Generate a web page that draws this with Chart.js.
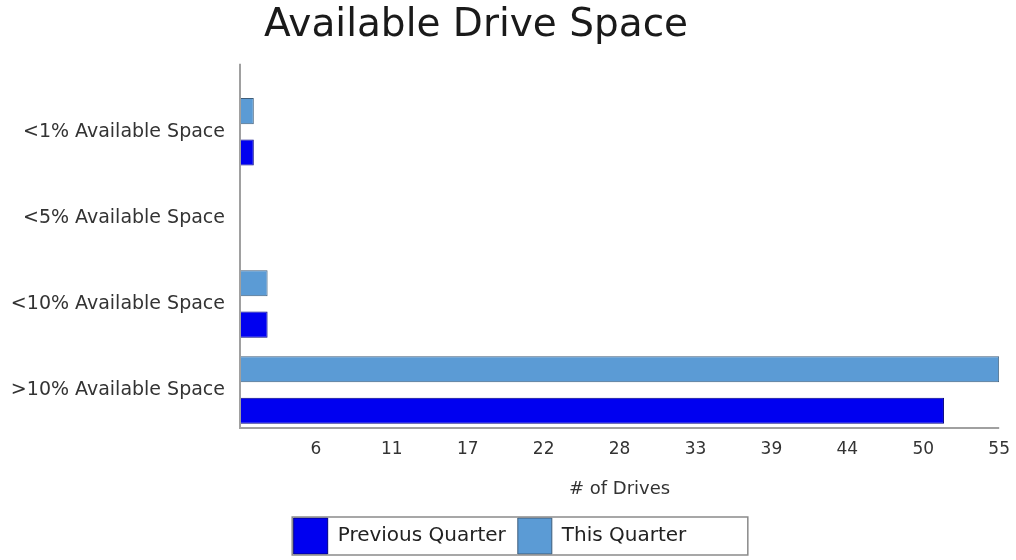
<!DOCTYPE html>
<html>
<head>
<meta charset="utf-8">
<script src="https://cdn.jsdelivr.net/npm/chart.js@4.4.0/dist/chart.umd.min.js"></script>
<style>
  html, body { margin: 0; padding: 0; background: #fff; }
  #wrap { width: 1016px; height: 560px; }
</style>
</head>
<body>
<div id="wrap"><canvas id="chart"></canvas></div>
<script>
const categories = ['<1% Available Space', '<5% Available Space', '<10% Available Space', '>10% Available Space'];
const thisQuarter = [1, 0, 2, 55];
const previousQuarter = [1, 0, 2, 51];
const xTickLabels = ['', '6', '11', '17', '22', '28', '33', '39', '44', '50', '55'];

const axisColor = '#a0a0a0';
const fontFamily = '"DejaVu Sans", sans-serif';

// axis lines (the y line runs up past the plot) and the frame around the legend
const framePlugin = {
  id: 'frame',
  afterLayout(chart) {
    // title and legend sit a little left of centre in the original
    chart.titleBlock.left -= 24;
    chart.titleBlock.right -= 24;
    const lg = chart.legend;
    const dy = 518 - 12 - lg.top;
    lg.left -= 10;
    lg.right -= 10;
    lg.top += dy;
    lg.bottom += dy;
  },
  afterDraw(chart) {
    const { ctx, chartArea } = chart;
    ctx.save();
    ctx.strokeStyle = axisColor;
    ctx.lineWidth = 2;
    ctx.beginPath();
    ctx.moveTo(chartArea.left, chartArea.top - 25);
    ctx.lineTo(chartArea.left, chartArea.bottom - 5);
    ctx.lineTo(chartArea.right, chartArea.bottom - 5);
    ctx.stroke();

    const boxes = chart.legend.legendHitBoxes;
    if (boxes && boxes.length) {
      const first = boxes[0];
      const last = boxes[boxes.length - 1];
      ctx.lineWidth = 1.5;
      ctx.strokeStyle = '#8a8a8a';
      ctx.strokeRect(first.left - 1.5, first.top - 1, last.left + last.width - first.left + 63, 38);
    }
    ctx.restore();
  }
};

new Chart(document.getElementById('chart'), {
  type: 'bar',
  data: {
    labels: categories,
    datasets: [
      {
        label: 'This Quarter',
        data: thisQuarter,
        backgroundColor: '#5b9bd5',
        borderColor: '#3e5d7a',
        borderWidth: 1,
        borderSkipped: false
      },
      {
        label: 'Previous Quarter',
        data: previousQuarter,
        backgroundColor: '#0000f0',
        borderColor: '#000080',
        borderWidth: 1,
        borderSkipped: false
      }
    ]
  },
  options: {
    indexAxis: 'y',
    responsive: true,
    maintainAspectRatio: false,
    animation: false,
    categoryPercentage: 0.962,
    barPercentage: 0.63,
    layout: { padding: { left: 0, right: 16, top: 0, bottom: 0 } },
    plugins: {
      title: {
        display: true,
        text: 'Available Drive Space',
        color: '#1a1a1a',
        font: { family: fontFamily, size: 39, weight: 'normal' },
        padding: { top: 2, bottom: 40 }
      },
      legend: {
        position: 'bottom',
        reverse: true,
        labels: {
          boxWidth: 34,
          boxHeight: 36,
          padding: 12,
          color: '#222',
          font: { family: fontFamily, size: 20 }
        }
      },
      tooltip: { enabled: false }
    },
    scales: {
      x: {
        min: 0,
        max: 55,
        grid: { display: false, drawTicks: false },
        border: { display: false },
        ticks: {
          stepSize: 5.5,
          padding: 6,
          color: '#333',
          font: { family: fontFamily, size: 17 },
          callback: (v, i) => xTickLabels[i]
        },
        title: {
          display: true,
          text: '# of Drives',
          color: '#333',
          font: { family: fontFamily, size: 18 },
          padding: { top: 19, bottom: 2 }
        },
        afterFit(scale) { scale.height = 69; }
      },
      y: {
        grid: { display: false, drawTicks: false },
        border: { display: false },
        ticks: {
          padding: 15,
          color: '#333',
          font: { family: fontFamily, size: 19 }
        },
        afterFit(scale) { scale.width = 240; }
      }
    }
  },
  plugins: [framePlugin]
});
</script>
</body>
</html>
